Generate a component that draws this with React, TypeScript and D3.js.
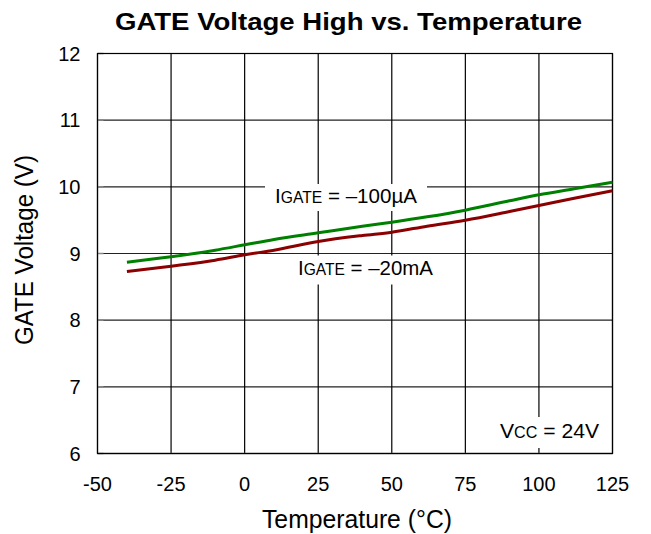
import React from "react";
import * as d3 from "d3";

const temps100uA = [-40, -25, -10, 0, 10, 25, 40, 50, 62, 75, 90, 100, 112, 125];
const volts100uA = [8.87, 8.95, 9.05, 9.13, 9.21, 9.31, 9.41, 9.47, 9.55, 9.65, 9.79, 9.88, 9.97, 10.07];
const temps20mA = [-40, -25, -10, 0, 10, 25, 40, 50, 62, 75, 90, 100, 112, 125];
const volts20mA = [8.73, 8.81, 8.9, 8.98, 9.05, 9.18, 9.27, 9.32, 9.41, 9.5, 9.63, 9.72, 9.83, 9.94];
const xTicks = [-50, -25, 0, 25, 50, 75, 100, 125];
const yTicks = [6, 7, 8, 9, 10, 11, 12];

const W = 651;
const H = 534;
const FONT = "'Liberation Sans', Arial, Helvetica, sans-serif";

export default function App() {
  const x = d3.scaleLinear().domain([-50, 125]).range([97.5, 612.5]);
  const y = d3.scaleLinear().domain([6, 12]).range([453.5, 53.5]);
  const line = d3
    .line<[number, number]>()
    .x((d) => x(d[0]))
    .y((d) => y(d[1]))
    .curve(d3.curveMonotoneX);
  const g = temps100uA.map((t, i) => [t, volts100uA[i]] as [number, number]);
  const r = temps20mA.map((t, i) => [t, volts20mA[i]] as [number, number]);
  const [x0, x1] = x.range();
  const [y0, y1] = y.range();

  return (
    <svg
      width={W}
      height={H}
      style={{ position: "absolute", left: 0, top: 0, background: "#fff" }}
      fontFamily={FONT}
    >
      <rect x={0} y={0} width={W} height={H} fill="#fff" />
      {/* grid */}
      {yTicks.map((t) => (
        <line key={"h" + t} x1={x0} x2={x1} y1={y(t)} y2={y(t)} stroke="#222" strokeWidth={1.2} />
      ))}
      {xTicks.map((t) => (
        <line key={"v" + t} x1={x(t)} x2={x(t)} y1={y1} y2={y0} stroke="#000" strokeWidth={1.2} />
      ))}
      <line x1={x0} x2={x1} y1={y0} y2={y0} stroke="#777" strokeWidth={1.5} />
      {yTicks.map((t) => (
        <line key={"mt" + t} x1={x0} x2={x0 + 6} y1={y(t)} y2={y(t)} stroke="#888" strokeWidth={1.5} />
      ))}
      <rect x={x0} y={y1} width={x1 - x0} height={y0 - y1} fill="none" stroke="#000" strokeWidth={1.2} />

      {/* label backgrounds */}
      <rect x={265} y={184} width={162} height={27} fill="#fff" />
      <rect x={290} y={255.5} width={150} height={29} fill="#fff" />
      <rect x={490} y={417} width={115} height={31} fill="#fff" />

      {/* data */}
      <path d={line(r) || ""} fill="none" stroke="#8B0000" strokeWidth={3} />
      <path d={line(g) || ""} fill="none" stroke="#008000" strokeWidth={3} />

      {/* annotations */}
      <text x={275} y={203} fontSize={21} fill="#000" textLength={142} lengthAdjust="spacingAndGlyphs">
        I<tspan fontSize={16}>GATE</tspan> = –100µA
      </text>
      <text x={298} y={274.5} fontSize={21} fill="#000" textLength={135} lengthAdjust="spacingAndGlyphs">
        I<tspan fontSize={16}>GATE</tspan> = –20mA
      </text>
      <text x={500} y={437.5} fontSize={21} fill="#000" textLength={99} lengthAdjust="spacingAndGlyphs">
        V<tspan fontSize={16}>CC</tspan> = 24V
      </text>

      {/* tick labels */}
      {yTicks.map((t) => (
        <text key={"yl" + t} x={80.5} y={y(t) + 7} fontSize={20} textAnchor="end" fill="#000">
          {t}
        </text>
      ))}
      {xTicks.map((t) => (
        <text key={"xl" + t} x={x(t)} y={491} fontSize={20} textAnchor="middle" fill="#000">
          {t}
        </text>
      ))}

      <text
        x={348.5}
        y={30}
        fontSize={24}
        fontWeight="bold"
        textAnchor="middle"
        fill="#000"
        textLength={467}
        lengthAdjust="spacingAndGlyphs"
      >
        GATE Voltage High vs. Temperature
      </text>
      <text x={357} y={528} fontSize={25} textAnchor="middle" fill="#000" textLength={190} lengthAdjust="spacingAndGlyphs">
        Temperature (°C)
      </text>
      <text
        transform={`translate(33,250) rotate(-90)`}
        fontSize={25}
        textAnchor="middle"
        fill="#000"
        textLength={190}
        lengthAdjust="spacingAndGlyphs"
      >
        GATE Voltage (V)
      </text>
    </svg>
  );
}
